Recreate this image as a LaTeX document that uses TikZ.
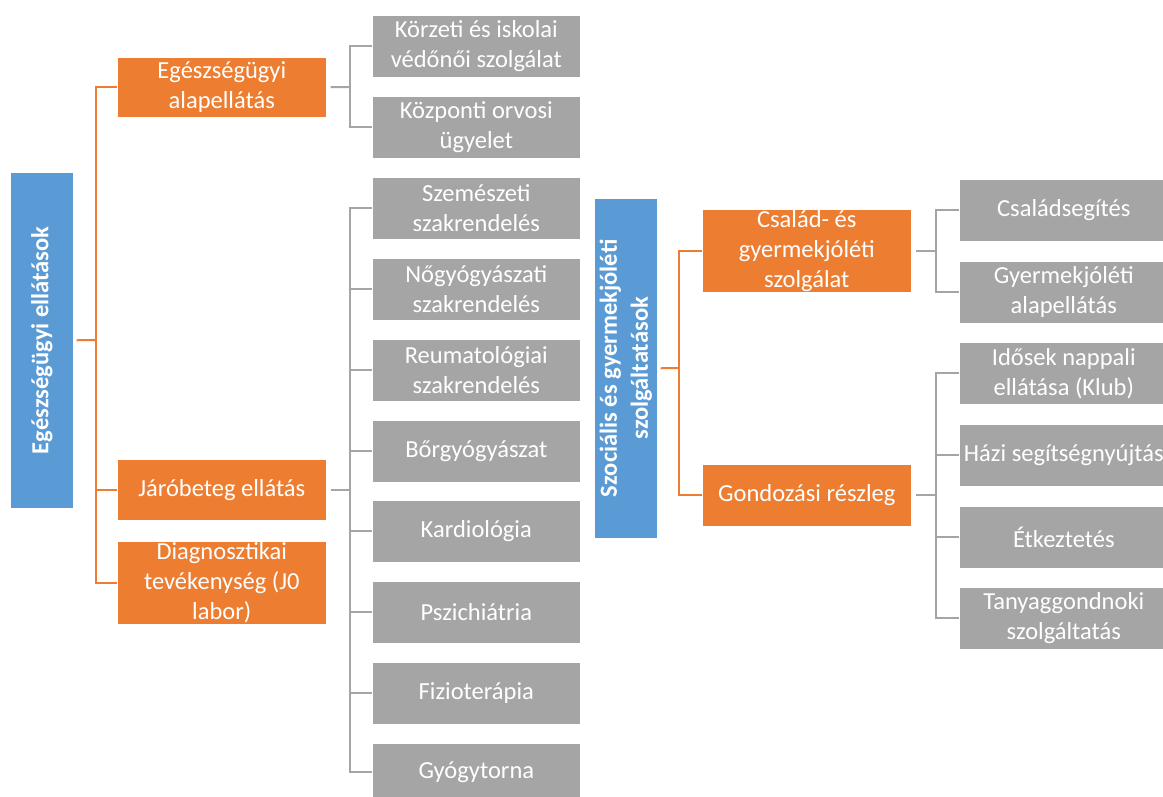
\documentclass[tikz,border=0pt]{standalone}
\usepackage{fontspec}
\setmainfont{Carlito}
\definecolor{cblue}{HTML}{5B9BD5}
\definecolor{corange}{HTML}{ED7D31}
\definecolor{cgray}{HTML}{A5A5A5}
\begin{document}
\begin{tikzpicture}[x=1pt,y=-1pt,
  box/.style={anchor=north west, inner sep=0pt, align=center, text=white,
    font=\fontsize{24.5}{30}\selectfont, draw=white, line width=0.6pt},
  bbox/.style={box, fill=cblue, minimum width=63pt},
  obox/.style={box, fill=corange, minimum width=209pt},
  gbox/.style={box, fill=cgray, minimum width=208pt, minimum height=62pt},
  btext/.style={rotate=90, align=center, text=white, inner sep=0pt,
    font=\fontsize{24.5}{31}\selectfont\bfseries},
  oline/.style={draw=corange, line width=2pt},
  gline/.style={draw=cgray, line width=2pt}]
\useasboundingbox (0,0) rectangle (1163,796);
\clip (0,0) rectangle (1163,796);

% left blue
\node[bbox, minimum height=336pt] (b1) at (10,172) {};
\node[btext] (b1t) at (b1.center) {Egészségügyi ellátások};
% orange level 1
\node[obox, minimum height=60pt] (o1) at (117,57) {Egészségügyi\\alapellátás};
\node[obox, minimum height=61pt] (o2) at (117,459) {Járóbeteg ellátás};
\node[obox, minimum height=83pt] (o3) at (117,541) {Diagnosztikai\\tevékenység (J0\\labor)};
% gray column 1
\node[gbox] (g1) at (372,15) {Körzeti és iskolai\\védőnői szolgálat};
\node[gbox] (g2) at (372,96) {Központi orvosi\\ügyelet};
\node[gbox] (g3) at (372,177) {Szemészeti\\szakrendelés};
\node[gbox] (g4) at (372,258) {Nőgyógyászati\\szakrendelés};
\node[gbox] (g5) at (372,339) {Reumatológiai\\szakrendelés};
\node[gbox] (g6) at (372,420) {Bőrgyógyászat};
\node[gbox] (g7) at (372,500) {Kardiológia};
\node[gbox] (g8) at (372,581) {Pszichiátria};
\node[gbox] (g9) at (372,662) {Fizioterápia};
\node[gbox, minimum height=58pt] (g10) at (372,743) {Gyógytorna};

% second blue
\node[bbox, minimum height=340pt] (b2) at (594,198) {};
\node[btext] (b2t) at (b2.center) {Szociális és gyermekjóléti\\szolgáltatások};
% orange level 2
\node[obox, minimum height=83pt] (o4) at (702,209) {Család- és\\gyermekjóléti\\szolgálat};
\node[obox, minimum height=62pt] (o5) at (702,464) {Gondozási részleg};
% gray column 2
\node[gbox, minimum width=209pt] (h1) at (959,179) {Családsegítés};
\node[gbox, minimum width=209pt] (h2) at (959,261) {Gyermekjóléti\\alapellátás};
\node[gbox, minimum width=209pt] (h3) at (959,342) {Idősek nappali\\ellátása (Klub)};
\node[gbox, minimum width=209pt] (h4) at (959,424) {Házi segítségnyújtás};
\node[gbox, minimum width=209pt] (h5) at (959,506) {Étkeztetés};
\node[gbox, minimum width=209pt] (h6) at (959,587) {Tanyaggondnoki\\szolgáltatás};

% junction coordinates
\coordinate (j1) at (96,340);
\coordinate (j2) at (350,87);
\coordinate (j3) at (350,490);
\coordinate (j4) at (679,368);
\coordinate (j5) at (936,251);
\coordinate (j6) at (936,494);

% orange connectors left
\draw[oline, shorten <=3pt] (b1.east) -- (j1);
\draw[oline] (o1.west) -- (o1.west -| j1) |- (o3.west);
\draw[oline] (o2.west -| j1) -- (o2.west);

% gray connectors column 1
\draw[gline, shorten <=4pt] (o1.east) -- (j2);
\draw[gline] (g1.west) -| (j2) |- (g2.west);
\draw[gline, shorten <=4pt] (o2.east) -- (o2.east -| j3);
\draw[gline] (g3.west) -- (g3.west -| j3) |- (g10.west);
\foreach \n in {g4,g5,g6,g7,g8,g9}
  \draw[gline] (\n.west -| j3) -- (\n.west);

% orange connectors right
\draw[oline, shorten <=3pt] (b2.east) -- (j4);
\draw[oline] (o4.west) -| (j4) |- (o5.west);

% gray connectors column 2
\draw[gline, shorten <=4pt] (o4.east) -- (o4.east -| j5);
\draw[gline] (h1.west) -- (h1.west -| j5) |- (h2.west);
\draw[gline, shorten <=4pt] (o5.east) -- (o5.east -| j6);
\draw[gline] (h3.west) -- (h3.west -| j6) |- (h6.west);
\draw[gline] (h4.west -| j6) -- (h4.west);
\draw[gline] (h5.west -| j6) -- (h5.west);
\end{tikzpicture}
\end{document}
